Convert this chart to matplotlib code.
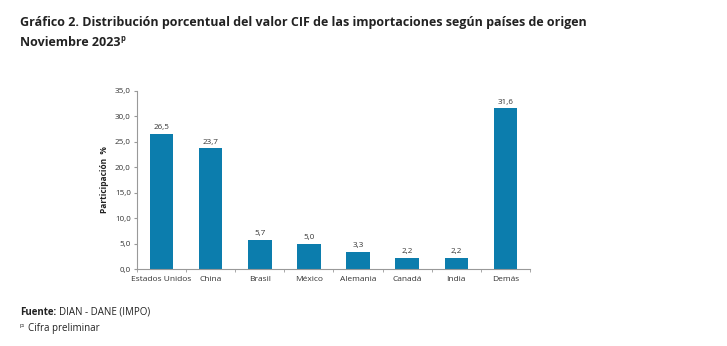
import matplotlib.pyplot as plt
import numpy as np

# Datos
paises = ['Estados Unidos', 'China', 'Brasil', 'México', 'Alemania', 'Canadá', 'India', 'Demás']
participacion = [26.5, 23.7, 5.7, 5.0, 3.3, 2.2, 2.2, 31.6]
y_ticks = [0, 5, 10, 15, 20, 25, 30, 35]

plt.rcParams['font.family'] = ['Open Sans', 'DejaVu Sans']

fig = plt.figure(figsize=(7.27, 3.46), dpi=100)
ax = fig.add_axes([0.1884, 0.2225, 0.5406, 0.5145])

x = np.arange(len(paises))
barras = ax.bar(x, participacion, width=0.48, color='#0C7DAD')
ax.bar_label(barras, labels=[f'{v:.1f}'.replace('.', ',') for v in participacion],
             padding=2, fontsize=5.8, color='#333333')

ax.set_xlim(-0.5, len(paises) - 0.5)
ax.set_ylim(0, 35)
ax.set_yticks(y_ticks)
ax.set_yticklabels([f'{v:.1f}'.replace('.', ',') for v in y_ticks], fontsize=5.8, color='#333333')
ax.set_xticks(x)
ax.set_xticklabels(paises, fontsize=6, color='#333333')
ax.tick_params(axis='x', which='major', length=0, pad=5)
ax.set_xticks(np.arange(-0.5, len(paises)), minor=True)
ax.tick_params(axis='x', which='minor', length=2.5, color='#999999', direction='out')
ax.tick_params(axis='y', length=2.5, color='#999999', pad=2)

for lado in ['top', 'right']:
    ax.spines[lado].set_visible(False)
for lado in ['left', 'bottom']:
    ax.spines[lado].set_color('#999999')
    ax.spines[lado].set_linewidth(0.8)

ax.set_ylabel('Participación  %', fontsize=6, fontweight='bold', color='#222222', labelpad=4)

renderer = fig.canvas.get_renderer()


def siguiente_x(txt):
    # posición x (fracción de figura) donde termina un texto
    bb = txt.get_window_extent(renderer=renderer)
    return bb.x1 / fig.bbox.width


# Títulos
fig.text(0.027, 0.935, 'Gráfico 2. Distribución porcentual del valor CIF de las importaciones según países de origen',
         fontsize=9, fontweight='bold', color='#222222', va='center')
t = fig.text(0.027, 0.876, 'Noviembre 2023', fontsize=9, fontweight='bold', color='#222222', va='center')
fig.text(siguiente_x(t) + 0.001, 0.888, 'p', fontsize=5.5, fontweight='bold', color='#222222', va='center')

# Pie
f = fig.text(0.027, 0.097, 'Fuente:', fontsize=7, fontweight='bold', color='#222222', va='center')
fig.text(siguiente_x(f) + 0.005, 0.097, 'DIAN - DANE (IMPO)', fontsize=7, color='#222222', va='center')
p = fig.text(0.027, 0.060, 'p:', fontsize=4.5, color='#222222', va='center')
fig.text(siguiente_x(p) + 0.004, 0.052, 'Cifra preliminar', fontsize=7, color='#222222', va='center')

plt.savefig('out.png', dpi=100)
